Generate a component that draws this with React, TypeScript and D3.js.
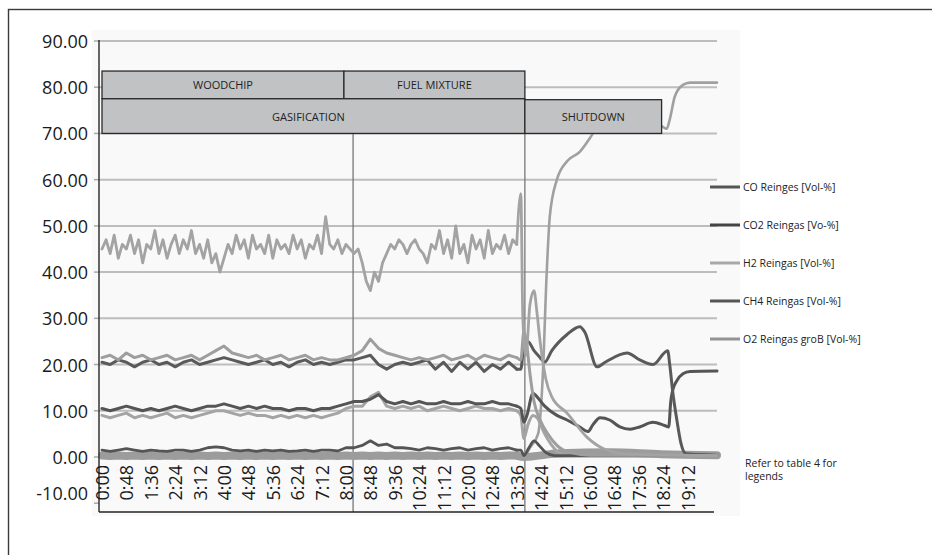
import React from "react";
import * as d3 from "d3";

// ---------- DATA ----------
const TIME_LABELS = ["0:00","0:48","1:36","2:24","3:12","4:00","4:48","5:36","6:24","7:12","8:00","8:48","9:36","10:24","11:12","12:00","12:48","13:36","14:24","15:12","16:00","16:48","17:36","18:24","19:12"];
const TICK_STEP_MIN = 48;
const Y_TICKS = [90, 80, 70, 60, 50, 40, 30, 20, 10, 0, -10];

// gasification phase, sampled every 8 min (H2) / 16 min (others), minutes 0..816
const H2_GAS = [45,47,44,48,43,46,45,48,44,47,42,46,45,49,44,47,43,46,48,44,47,45,49,44,46,
  43,47,42,44,40,43,
  46,44,48,45,47,43,48,45,46,44,48,43,47,45,46,44,48,45,47,43,46,45,48,44,
  52,
  46,45,47,44,46,45,44,
  45,42,38,36,40,38,42,44,
  46,45,47,46,44,46,47,45,44,42,46,45,49,44,47,43,50,44,46,42,48,45,47,43,49,44,46,45,48,44,47,46];
const CO_GAS = [21.5,22,21,22.5,21.5,22,21,21.5,22,21,
  21.5,22,21,22,23,24,22.5,22,21.5,22,
  21,21.5,22,21,21.5,22,21,21.5,21,21,
  21.5,22,23,25.5,23.5,22.5,22,21.5,21,21.5,
  21,21.5,22,21,21.5,22,21,22,21.5,21,
  22,21.5];
const CO2_GAS = [20.5,20,21,20.5,19.5,20.5,21,20,20.5,19.5,
  20.5,21,20,20.5,21,21.5,21,20.5,20,20.5,
  21,20,20.5,19.5,20.5,21,20,20.5,20,20.5,
  21,21,21.5,22,20,19,20,20.5,20,20.5,
  21,19,20.5,18.5,20.5,19,20.5,18.5,20,19,
  20.5,19];
const CH4_GAS = [10.5,10,10.5,11,10.5,10,10.5,10,10.5,11,
  10.5,10,10.5,11,11,11.5,11,10.5,11,10.5,
  11,10.5,10.5,10,10.5,10.5,10,10.5,10.5,11,
  11.5,12,12,12.5,13.5,12,11.5,12,11.5,12,
  11.5,11.5,12,11.5,11.5,12,11.5,11.5,12,11.5,
  11.5,11];
const C2_GAS = [9,8.5,9,9.5,8.5,9,8.5,9,9.5,8.5,
  9,8.5,9,9.5,10,10,9.5,9,9.5,9,
  9,8.5,9,8.5,9,8.5,9,8.5,9,9.5,
  10.5,11,11,13,14,11,10.5,11,10.5,11,
  10,10.5,11,10.5,10,10.5,11,10.5,10.5,10,
  10.5,10];
const C3_GAS = [1.5,1.2,1.5,1.8,1.5,1.2,1.5,1.3,1.2,1.5,
  1.5,1.2,1.5,2,2.2,2,1.5,1.3,1.5,1.2,
  1.5,1.3,1.5,1.2,1.3,1.5,1.2,1.5,1.5,1.3,
  2,2,2.5,3.5,2.5,2.8,2,2,1.8,1.5,
  2,1.8,1.5,1.8,2,1.5,1.8,2,1.5,1.8,
  2,1.5];
const O2_GAS = [0.3,0.2,0.3,0.2,0.3,0.2,0.3,0.2,0.3,0.2,
  0.3,0.2,0.3,0.2,0.3,0.2,0.3,0.2,0.3,0.2,
  0.3,0.2,0.3,0.2,0.3,0.2,0.3,0.2,0.3,0.2,
  0.3,0.2,0.3,0.2,0.3,0.2,0.3,0.2,0.3,0.2,
  0.3,0.2,0.3,0.2,0.3,0.2,0.3,0.2,0.3,0.2,
  0.3,0.3];

// shutdown phase, [minute, value]
const H2_SHUT = [[824,57],[828,30],[834,22],[842,33],[850,36],[856,31],[862,25],[873,17],[885,13],[915,9.5],[954,4.3],[993,1.5],[1039,0.6],[1210,0.3]];
const CO_SHUT = [[824,21],[830,27],[836,24],[842,18],[850,12],[862,8],[877,5],[895,2.5],[920,1],[960,0.4],[1210,0.3]];
const CO2_SHUT = [[824,19],[830,24],[838,25],[850,23],[862,21.5],[871,20.5],[885,23],[915,26.5],[940,28.2],[950,27],[974,19.5],[990,20.5],[1033,22.5],[1058,21],[1084,20],[1113,23],[1117,20],[1123,14],[1131,8],[1139,3],[1149,0.7],[1210,0.4]];
const CH4_SHUT = [[824,10.5],[830,7.5],[836,9],[848,13.8],[856,13],[871,11],[895,9],[915,8],[940,6.5],[956,5.5],[966,7],[980,8.5],[999,8],[1019,6.5],[1039,6],[1058,6.5],[1084,7.5],[1107,6.8],[1115,6.5],[1119,12],[1123,14.5],[1131,16.5],[1143,18],[1157,18.5],[1210,18.6]];
const C2_SHUT = [[824,9],[830,4],[838,7],[848,9],[856,8.5],[871,5],[885,2.5],[901,0.8],[930,0.3],[1210,0.3]];
const C3_SHUT = [[824,1.5],[830,0.3],[840,2],[850,3.5],[860,2.5],[873,1],[890,0.3],[1210,0.3]];
const O2_SHUT = [[830,0],[900,0.8],[1000,1],[1100,0.6],[1210,0.4]];
const N2_SHUT = [[832,0],[842,2],[858,5],[867,17],[875,40],[881,52],[895,60],[915,64],[940,66],[960,69],[966,70],[999,72],[1039,73],[1088,72],[1102,71.5],[1111,71],[1117,73],[1127,78],[1143,80.5],[1157,81],[1210,81]];

const PHASE_TOP = [
  { label: "WOODCHIP", start: 0, end: 476 },
  { label: "FUEL MIXTURE", start: 476, end: 832 },
];
const PHASE_BOTTOM = [
  { label: "GASIFICATION", start: 0, end: 832 },
  { label: "SHUTDOWN", start: 832, end: 1101 },
];
const MARKERS = [494, 832];

const LEGEND_LABELS = ["CO Reinges [Vol-%]", "CO2 Reingas [Vo-%]", "H2 Reingas [Vol-%]", "CH4 Reingas [Vol-%]", "O2 Reingas groB [Vol-%]"];
const LEGEND_COLORS = ["#555555", "#444444", "#a8a8a8", "#555555", "#939393"];

// ---------- CHART ----------
const W = 932, H = 555;
const FONT = "'Open Sans', 'Noto Sans', sans-serif";

const x = d3.scaleLinear().domain([0, 1210]).range([102, 717]);
const y = d3.scaleLinear().domain([-10, 90]).range([503.2, 41]);

type P = [number, number];
function withTimes(vals: number[], step: number): P[] {
  return vals.map((v, i) => [i * step, v] as P);
}

const series = [
  { key: "o2", gas: withTimes(O2_GAS, 16), shut: O2_SHUT as P[], color: "#9c9c9c", w: 8 },
  { key: "n2", gas: [] as P[], shut: N2_SHUT as P[], color: "#a0a0a0", w: 2.6 },
  { key: "c2", gas: withTimes(C2_GAS, 16), shut: C2_SHUT as P[], color: "#a4a4a4", w: 3 },
  { key: "c3", gas: withTimes(C3_GAS, 16), shut: C3_SHUT as P[], color: "#555555", w: 2.8 },
  { key: "ch4", gas: withTimes(CH4_GAS, 16), shut: CH4_SHUT as P[], color: "#555555", w: 3 },
  { key: "co2", gas: withTimes(CO2_GAS, 16), shut: CO2_SHUT as P[], color: "#5a5a5a", w: 3 },
  { key: "co", gas: withTimes(CO_GAS, 16), shut: CO_SHUT as P[], color: "#9e9e9e", w: 3 },
  { key: "h2", gas: withTimes(H2_GAS, 8), shut: H2_SHUT as P[], color: "#a3a3a3", w: 2.8 },
];

const lineGas = d3.line<P>().x(d => x(d[0])).y(d => y(d[1])).curve(d3.curveLinear);
const lineShut = d3.line<P>().x(d => x(d[0])).y(d => y(d[1])).curve(d3.curveMonotoneX);

export default function App() {
  const gridX0 = 99, gridX1 = 717;
  const bottomY = 512;
  const topRowY0 = y(83.5), topRowY1 = y(77.5);
  const botRowY0 = y(77.5), botRowY1 = y(70);
  const shutY0 = y(77.3);
  return (
    <div style={{ position: "absolute", left: 0, top: 0 }}>
      <svg width={W} height={H} style={{ display: "block" }} fontFamily={FONT}>
        <rect x={0} y={0} width={W} height={H} fill="#ffffff" />
        <rect x={92} y={30} width={648} height={486} fill="#f9f9f9" />
        <rect x={8.5} y={9.5} width={940} height={560} fill="none" stroke="#3a3a3a" strokeWidth={1.4} />

        {/* gridlines */}
        {Y_TICKS.filter(t => t >= 0).map(t => (
          <line key={t} x1={gridX0} x2={gridX1} y1={y(t)} y2={y(t)} stroke="#bdbdbd" strokeWidth={2} />
        ))}
        {Y_TICKS.map(t => (
          <line key={"tk" + t} x1={94} x2={99} y1={y(t)} y2={y(t)} stroke="#aaaaaa" strokeWidth={1.5} />
        ))}

        {/* markers */}
        {MARKERS.map(m => (
          <line key={m} x1={x(m)} x2={x(m)} y1={botRowY1} y2={bottomY} stroke="#777777" strokeWidth={1.3} />
        ))}

        {/* series */}
        {series.map(s => {
          const shutPts = s.gas.length ? [s.gas[s.gas.length - 1], ...s.shut] : s.shut;
          return (
            <g key={s.key} fill="none" stroke={s.color} strokeWidth={s.w} strokeLinejoin="round" strokeLinecap="round">
              {s.gas.length > 0 && <path d={lineGas(s.gas) || ""} />}
              <path d={lineShut(shutPts) || ""} />
            </g>
          );
        })}

        {/* phase boxes */}
        {PHASE_TOP.map(p => (
          <g key={p.label}>
            <rect x={x(p.start)} y={topRowY0} width={x(p.end) - x(p.start)} height={topRowY1 - topRowY0} fill="#c1c2c4" stroke="#2a2a2a" strokeWidth={1.3} />
            <text x={(x(p.start) + x(p.end)) / 2} y={(topRowY0 + topRowY1) / 2} textAnchor="middle" dominantBaseline="central" fontSize={11} fill="#222">{p.label}</text>
          </g>
        ))}
        {PHASE_BOTTOM.map((p, i) => {
          const y0 = i === 0 ? botRowY0 : shutY0;
          return (
            <g key={p.label}>
              <rect x={x(p.start)} y={y0} width={x(p.end) - x(p.start)} height={botRowY1 - y0} fill="#c1c2c4" stroke="#2a2a2a" strokeWidth={1.3} />
              <text x={(x(p.start) + x(p.end)) / 2 - (i === 0 ? 5 : 0)} y={(y0 + botRowY1) / 2} textAnchor="middle" dominantBaseline="central" fontSize={11} fill="#222">{p.label}</text>
            </g>
          );
        })}

        {/* axes */}
        <line x1={99} x2={99} y1={y(90) - 1} y2={bottomY} stroke="#333" strokeWidth={1.5} />
        <line x1={99} x2={714} y1={bottomY} y2={bottomY} stroke="#222" strokeWidth={1.3} />
        {Y_TICKS.map(t => (
          <text key={"yl" + t} x={88} y={t === -10 ? y(t) - 10 : y(t)} textAnchor="end" dominantBaseline="central" fontSize={18} fill="#1a1a1a">{t.toFixed(2)}</text>
        ))}
        {TIME_LABELS.map((lab, i) => {
          const px = x(i * TICK_STEP_MIN);
          return (
            <text key={lab} transform={`translate(${px},${465}) rotate(-90)`} textAnchor="end" dominantBaseline="central" fontSize={18} fill="#1a1a1a">{lab}</text>
          );
        })}

        {/* legend */}
        {LEGEND_LABELS.map((lab, i) => {
          const ly = 187 + i * 38;
          return (
            <g key={lab}>
              <line x1={710} x2={740} y1={ly} y2={ly} stroke={LEGEND_COLORS[i]} strokeWidth={3} />
              <text x={743} y={ly} dominantBaseline="central" fontSize={10.5} fill="#222">{lab}</text>
            </g>
          );
        })}
        <text x={745} y={463} dominantBaseline="central" fontSize={10.5} fill="#222">Refer to table 4 for</text>
        <text x={745} y={476} dominantBaseline="central" fontSize={10.5} fill="#222">legends</text>
      </svg>
    </div>
  );
}
